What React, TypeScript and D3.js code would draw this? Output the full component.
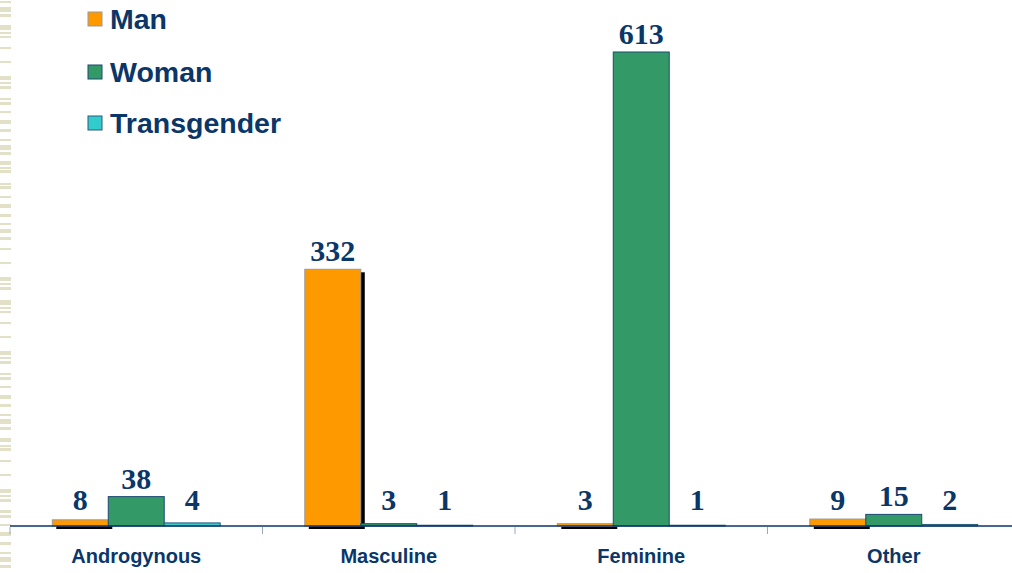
import React from "react";
import * as d3 from "d3";

const categories = ["Androgynous", "Masculine", "Feminine", "Other"];
const seriesNames = ["Man", "Woman", "Transgender"];
const manValues = [8, 332, 3, 9];
const womanValues = [38, 3, 613, 15];
const transValues = [4, 1, 1, 2];
const seriesColors = ["#ff9900", "#339966", "#33cccc"];
const seriesStrokes = ["#9a9a9a", "#1d4a73", "#2a5a7a"];

// decorative left-edge stripes [top, bottom]
const stripes: [number, number][] = [
  [1, 3], [7, 12], [14, 17], [25, 30], [32, 34], [36, 38], [47, 49], [61, 63], [76, 80], [82, 84], [86, 89],
  [98, 100], [102, 105], [111, 113], [120, 124], [129, 132], [139, 141], [145, 150], [152, 155], [161, 165],
  [167, 169], [170, 173], [183, 185], [186, 189], [196, 198], [204, 208], [214, 217], [223, 225], [229, 233],
  [237, 240], [248, 250], [262, 264], [277, 281], [283, 285], [287, 290], [300, 305], [307, 309], [311, 313],
  [322, 324], [336, 338], [351, 355], [357, 359], [361, 364], [373, 375], [377, 380], [386, 388], [395, 399],
  [404, 407], [414, 416], [419, 424], [427, 430], [438, 442], [445, 447], [448, 451], [460, 462], [474, 476],
  [489, 493], [495, 497], [499, 502], [510, 513], [515, 518], [524, 526], [532, 536], [542, 545], [552, 554],
  [557, 562], [565, 568],
];

const W = 1012;
const H = 573;
const baseY = 526;
const navy = "#0a3668";

export default function App() {
  const seriesValues = [manValues, womanValues, transValues];
  const x0 = d3.scaleBand<string>().domain(categories).range([10, 1020]).padding(0);
  const groupW = x0.bandwidth() * 0.665;
  const x1 = d3.scaleBand<string>().domain(seriesNames).range([0, groupW]).padding(0);
  const y = d3.scaleLinear().domain([0, 613]).range([baseY, 52]);

  const bars: any[] = [];
  seriesNames.forEach((s, si) => {
    categories.forEach((c, ci) => {
      const v = seriesValues[si][ci];
      const bx = (x0(c) as number) + (x0.bandwidth() - groupW) / 2 + (x1(s) as number);
      bars.push({ s, si, c, ci, v, x: bx, w: x1.bandwidth(), top: y(v) });
    });
  });

  return (
    <svg width={W} height={H} style={{ position: "absolute", left: 0, top: 0, background: "#fff" }}>
      <rect x={0} y={0} width={W} height={H} fill="#fff" />
      {stripes.map(([a, b], i) => (
        <rect key={"st" + i} x={0} y={a} width={11} height={b - a} fill="#e2e0c6" />
      ))}
      {/* shadows for Man series */}
      {bars
        .filter((b) => b.si === 0)
        .map((b, i) => (
          <rect key={"sh" + i} x={b.x + 4} y={b.top + 3} width={b.w} height={baseY - b.top} fill="#000" />
        ))}
      {bars.map((b, i) => (
        <rect
          key={"b" + i}
          x={b.x}
          y={b.top}
          width={b.w}
          height={Math.max(baseY - b.top, 0.5)}
          fill={seriesColors[b.si]}
          stroke={seriesStrokes[b.si]}
          strokeWidth={1}
        />
      ))}
      {/* axis */}
      <line x1={10} x2={W} y1={baseY} y2={baseY} stroke={navy} strokeWidth={1.5} />
      {[...categories.map((c) => x0(c) as number)].map((tx, i) => (
        <line key={"t" + i} x1={tx} x2={tx} y1={baseY + 1} y2={baseY + 8} stroke="#9aa8bb" strokeWidth={1} />
      ))}
      {categories.map((c, i) => (
        <text
          key={"cl" + i}
          x={(x0(c) as number) + x0.bandwidth() / 2}
          y={563}
          textAnchor="middle"
          fontFamily="Liberation Sans, Arial, sans-serif"
          fontWeight="bold"
          fontSize={20}
          fill={navy}
        >
          {c}
        </text>
      ))}
      {bars.map((b, i) => (
        <text
          key={"vl" + i}
          x={b.x + b.w / 2}
          y={Math.min(b.top - 8, 510)}
          textAnchor="middle"
          fontFamily="Liberation Serif, Times New Roman, serif"
          fontWeight="bold"
          fontSize={30}
          fill={navy}
        >
          {b.v}
        </text>
      ))}
      {/* legend */}
      {seriesNames.map((s, i) => {
        const ly = [19, 72, 123][i];
        return (
          <g key={"lg" + i}>
            <rect x={88} y={ly - 7} width={14} height={14} fill={seriesColors[i]} stroke={seriesStrokes[i]} strokeWidth={1} />
            <text
              x={110}
              y={ly + 10}
              fontFamily="Liberation Sans, Arial, sans-serif"
              fontWeight="bold"
              fontSize={28.5}
              fill={navy}
            >
              {s}
            </text>
          </g>
        );
      })}
    </svg>
  );
}
